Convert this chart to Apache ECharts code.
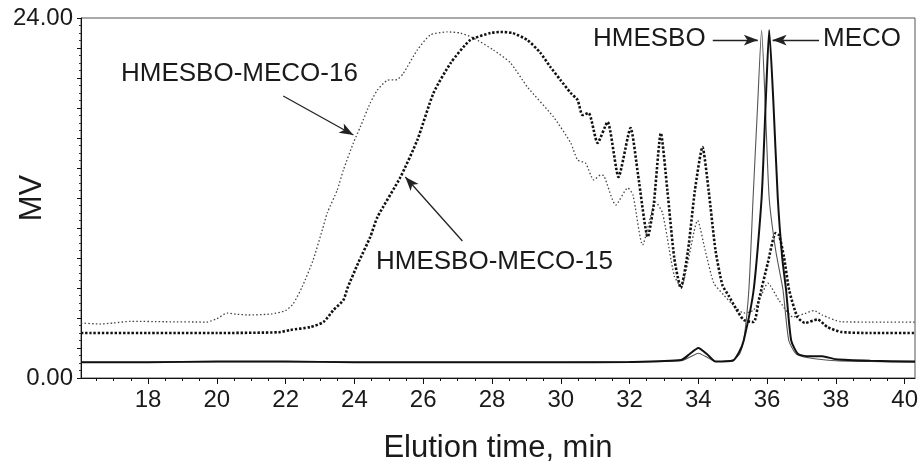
<!DOCTYPE html>
<html>
<head>
<meta charset="utf-8">
<script src="https://cdn.jsdelivr.net/npm/echarts@6/dist/echarts.min.js"></script>
<style>
html,body{margin:0;padding:0;background:#fff;}
#main{width:920px;height:462px;}
</style>
</head>
<body>
<div id="main"></div>
<script>
// x tick labels (min) and y labels shown
var xTicks = [18, 20, 22, 24, 26, 28, 30, 32, 34, 36, 38, 40];
var xMinorTicks = [16.5, 17, 17.5, 18.5, 19, 19.5, 20.5, 21, 21.5, 22.5, 23, 23.5, 24.5, 25, 25.5, 26.5, 27, 27.5,
	28.5, 29, 29.5, 30.5, 31, 31.5, 32.5, 33, 33.5, 34.5, 35, 35.5, 36.5, 37, 37.5, 38.5, 39, 39.5];
var yLabelValues = [0, 24];

// HMESBO-MECO-16 (thin dotted)
var hm16 = [[16.05,3.67],[16.6,3.6],[17.0,3.67],[17.5,3.78],[18.5,3.75],[19.7,3.73],[20.0,3.95],[20.3,4.33],
	[20.6,4.25],[20.9,4.2],[21.6,4.27],[22.0,4.5],[22.22,4.95],[22.48,6.07],[22.8,7.87],[23.07,9.9],[23.21,11.0],
	[23.5,12.53],[23.68,13.87],[23.97,15.67],[24.17,16.73],[24.46,18.33],[24.67,19.2],[24.96,19.85],[25.25,19.9],
	[25.42,20.3],[25.83,21.87],[26.21,22.87],[26.7,23.07],[27.08,23.0],[27.46,22.67],[28.04,21.87],[28.54,21.0],
	[29.03,19.4],[29.79,17.4],[30.29,15.67],[30.49,14.53],[30.72,14.33],[30.96,13.2],[31.16,13.53],[31.25,13.5],
	[31.6,11.53],[31.95,12.67],[32.1,12.2],[32.38,8.87],[32.76,11.73],[32.96,11.0],[33.3,6.8],[33.5,6.1],
	[33.98,10.5],[34.2,8.5],[34.45,6.33],[34.74,5.53],[35.0,4.9],[35.32,4.33],[35.61,4.53],[35.85,5.6],
	[36.02,6.33],[36.34,5.2],[36.75,4.07],[37.1,4.3],[37.36,4.5],[37.6,4.2],[38.15,3.75],[39,3.73],[40.3,3.73]];

// HMESBO-MECO-15 (thick dotted)
var hm15 = [[16.05,3.0],[18,3.0],[20,3.0],[21.8,3.05],[22.13,3.2],[22.72,3.4],[23.1,3.73],[23.39,4.53],
	[23.68,5.2],[23.8,6.0],[24.11,7.67],[24.46,9.4],[24.67,10.73],[25.34,13.4],[25.83,15.87],[26.3,19.0],
	[26.8,21.0],[27.37,22.53],[27.96,23.0],[28.25,23.07],[28.6,23.0],[29.03,22.53],[29.4,21.7],[29.7,20.73],
	[29.99,19.87],[30.29,19.0],[30.49,18.53],[30.63,17.53],[30.81,17.67],[31.07,15.67],[31.36,17.07],
	[31.68,13.4],[32.03,16.67],[32.25,13.5],[32.53,9.4],[32.7,11.5],[32.91,16.33],[33.1,12.5],[33.3,8.0],
	[33.49,6.0],[33.7,8.5],[33.9,12.5],[34.12,15.4],[34.3,12.5],[34.5,8.5],[34.7,6.2],[34.88,5.5],[35.1,4.6],
	[35.32,3.87],[35.61,3.73],[35.76,5.2],[36.02,7.67],[36.25,9.67],[36.35,9.5],[36.49,8.07],[36.64,5.87],
	[36.88,4.07],[37.1,3.67],[37.47,3.9],[37.75,3.4],[38.15,3.07],[39,3.0],[40.3,3.0]];

// HMESBO (thin solid)
var hmesbo = [[16.05,1.05],[18,1.05],[20,1.08],[22,1.08],[24,1.05],[26,1.05],[28,1.05],[30,1.05],[32,1.07],
	[33.5,1.15],[33.8,1.45],[34.0,1.65],[34.2,1.45],[34.5,1.1],[35.0,1.2],[35.2,1.6],[35.32,2.5],[35.47,5.9],
	[35.59,11.9],[35.72,18.0],[35.84,23.2],[35.95,18.0],[36.06,12.0],[36.25,8.5],[36.46,5.9],[36.63,2.5],
	[36.85,1.6],[37.2,1.35],[38,1.15],[39,1.1],[40.3,1.05]];

// MECO (thick solid)
var meco = [[16.05,1.05],[18,1.05],[20,1.1],[22,1.1],[24,1.05],[26,1.05],[28,1.05],[30,1.05],[32,1.07],
	[33.5,1.2],[33.75,1.6],[34.0,2.0],[34.25,1.6],[34.5,1.1],[35.0,1.15],[35.18,1.7],[35.32,2.5],[35.61,5.9],
	[35.84,12.0],[35.97,19.0],[36.06,23.2],[36.18,18.5],[36.31,12.0],[36.44,8.0],[36.55,5.9],[36.7,2.5],
	[36.9,1.6],[37.2,1.45],[37.6,1.45],[38,1.25],[39,1.15],[40.3,1.1]];

// annotation arrows [start, tip]
var arrows = [
	[[21.93,18.8],[23.97,16.2]],
	[[27.14,9.13],[25.48,13.4]],
	[[34.42,22.53],[35.73,22.53]],
	[[37.51,22.53],[36.16,22.53]]
];

var fontFam = '"Liberation Sans", Arial, sans-serif';
var myChart = echarts.init(document.getElementById('main'));

var option = {
	animation: false,
	backgroundColor: '#fff',
	grid: {left: 81, right: 5, top: 18, bottom: 84, show: true, borderColor: '#555', borderWidth: 1,
		containLabel: false, outerBoundsMode: 'none'},
	xAxis: [{
		type: 'value', min: 16.05, max: 40.3,
		name: 'Elution time, min', nameLocation: 'middle', nameGap: 55, nameMoveOverlap: false,
		nameTextStyle: {fontFamily: fontFam, fontSize: 31, color: '#1a1a1a'},
		axisLine: {show: true, onZero: false, lineStyle: {color: '#111', width: 1}},
		axisTick: {show: true, inside: false, length: 6, customValues: xTicks, lineStyle: {color: '#111'}},
		axisLabel: {customValues: xTicks, margin: 10, fontFamily: fontFam, fontSize: 24, color: '#1a1a1a'},
		splitLine: {show: false}
	}, {
		type: 'value', min: 16.05, max: 40.3, position: 'bottom',
		axisLine: {show: false},
		axisTick: {show: true, inside: false, length: 3, customValues: xMinorTicks, lineStyle: {color: '#111'}},
		axisLabel: {show: false},
		splitLine: {show: false}
	}],
	yAxis: {
		type: 'value', min: 0, max: 24, interval: 2,
		name: 'MV', nameLocation: 'middle', nameRotate: 90, nameGap: 33, nameMoveOverlap: false,
		nameTextStyle: {fontFamily: fontFam, fontSize: 31, color: '#1a1a1a'},
		axisLine: {show: true, lineStyle: {color: '#111', width: 1}},
		axisTick: {show: true, inside: false, length: 4, lineStyle: {color: '#111'}},
		minorTick: {show: true, splitNumber: 4, length: 2, lineStyle: {color: '#333'}},
		axisLabel: {
			margin: 8, fontFamily: fontFam, fontSize: 24, color: '#1a1a1a',
			formatter: function (v) { return yLabelValues.indexOf(v) >= 0 ? v.toFixed(2) : ''; }
		},
		splitLine: {show: false}
	},
	series: [
		{name: 'HMESBO-MECO-16', type: 'line', data: hm16, showSymbol: false, smooth: 0.2,
			lineStyle: {color: '#444', width: 1.3, type: [1.5, 2.2]}},
		{name: 'HMESBO-MECO-15', type: 'line', data: hm15, showSymbol: false, smooth: 0.2,
			lineStyle: {color: '#111', width: 2.6, type: [2.4, 1.8]}},
		{name: 'HMESBO', type: 'line', data: hmesbo, showSymbol: false, smooth: 0.2,
			lineStyle: {color: '#555', width: 1.1}},
		{name: 'MECO', type: 'line', data: meco, showSymbol: false, smooth: 0.2,
			lineStyle: {color: '#111', width: 2}},
		{name: 'arrows', type: 'line', data: [], silent: true,
			markLine: {
				silent: true, animation: false,
				symbol: ['none', 'arrow'], symbolSize: [8, 14],
				label: {show: false},
				lineStyle: {color: '#222', width: 1.3, type: 'solid'},
				data: arrows.map(function (a) { return [{coord: a[0]}, {coord: a[1]}]; })
			}}
	],
	graphic: [
		{type: 'text', x: 121, y: 74, style: {text: 'HMESBO-MECO-16', font: '26px ' + fontFam, fill: '#1a1a1a', verticalAlign: 'middle'}},
		{type: 'text', x: 376, y: 262, style: {text: 'HMESBO-MECO-15', font: '26px ' + fontFam, fill: '#1a1a1a', verticalAlign: 'middle'}},
		{type: 'text', x: 593, y: 39, style: {text: 'HMESBO', font: '26px ' + fontFam, fill: '#1a1a1a', verticalAlign: 'middle'}},
		{type: 'text', x: 823, y: 39, style: {text: 'MECO', font: '26px ' + fontFam, fill: '#1a1a1a', verticalAlign: 'middle'}}
	]
};
myChart.setOption(option);
</script>
</body>
</html>
